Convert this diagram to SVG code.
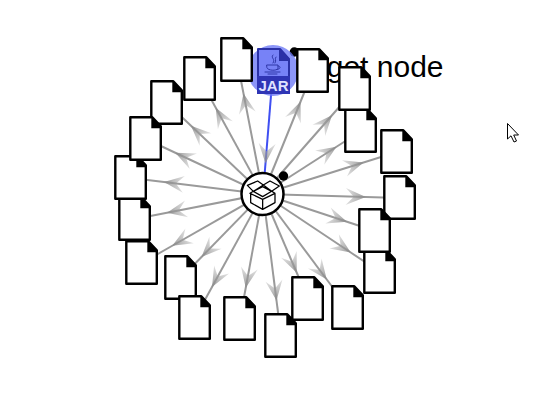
<svg xmlns="http://www.w3.org/2000/svg" width="537" height="416" viewBox="0 0 537 416">
<style>
.e{fill:none;stroke:#9a9a9a;stroke-width:2;marker-mid:url(#vee)}
.b{stroke:#3f4ff2}
.body{fill:#fff;stroke:#000;stroke-width:2.400;stroke-linejoin:round}
.fold{fill:#000}
.dot{fill:#000}
.ic{fill:none;stroke:#000;stroke-width:3.800;stroke-linejoin:round;stroke-linecap:round}
.cup{fill:none;stroke:#2f36a8;stroke-width:1;stroke-linecap:round}
</style>
<defs>
<linearGradient id="vg" gradientUnits="userSpaceOnUse" x1="-20" y1="0" x2="0" y2="0">
<stop offset="0" stop-color="#a8a8a8" stop-opacity=".35"/>
<stop offset="1" stop-color="#8a8a8a" stop-opacity=".9"/>
</linearGradient>
<marker id="vee" markerUnits="userSpaceOnUse" markerWidth="22" markerHeight="20" viewBox="-21 -10 22 20" refX="0" refY="0" orient="auto">
<path d="M0 0L-20 -8.500L-12 0L-20 8.500Z" fill="url(#vg)"/>
</marker>
<g id="file">
<path class="body" d="M.3 .3H22.300L30.800 9.300V42.800H.3Z"/>
<path class="fold" d="M21.300 .3H22.800L31.800 10.300V11.300H21.300Z"/>
</g>
</defs>
<text id="label" x="443.500" y="77" font-family="'Liberation Sans',Arial,sans-serif" font-size="30" text-anchor="end" fill="#000">get node</text>
<g id="connectors">
<path class="e" d="M263 194L243.500 93.500L237 60"/>
<path class="e" d="M263 194L215.750 107.750L200 79"/>
<path class="e" d="M263 194L191 125.750L167 103"/>
<path class="e" d="M263 194L175.250 152.750L146 139"/>
<path class="e" d="M263 194L164 182L131 178"/>
<path class="e" d="M263 194L167 212.750L135 219"/>
<path class="e" d="M263 194L172.250 245.750L142 263"/>
<path class="e" d="M263 194L201.500 257L181 278"/>
<path class="e" d="M263 194L212 287L195 318"/>
<path class="e" d="M263 194L245.750 287.750L240 319"/>
<path class="e" d="M263 194L276.500 300.500L281 336"/>
<path class="e" d="M263 194L296.750 272.750L308 299"/>
<path class="e" d="M263 194L326.750 279.500L348 308"/>
<path class="e" d="M263 194L350.750 252.500L380 272"/>
<path class="e" d="M263 194L347 221.750L375 231"/>
<path class="e" d="M263 194L365.750 197L400 198"/>
<path class="e" d="M263 194L363.500 162.500L397 152"/>
<path class="e" d="M263 194L336.500 146.750L361 131"/>
<path class="e" d="M263 194L332 115.250L355 89"/>
<path class="e" d="M263 194L300.500 101.750L313 71"/>
<path class="e b" d="M273 71L265.500 163.250L263 194"/>
</g>
<circle id="dot-source" class="dot" cx="283.500" cy="176" r="4.700"/>
<circle id="dot-target" class="dot" cx="294.300" cy="52" r="4.700"/>
<g id="jar-node">
<circle cx="273" cy="70.500" r="25.500" fill="#6f7cf6" fill-opacity=".8"/>
<path d="M258 49H280L289 59V93H258Z" fill="#7782f7" stroke="#2a31a6" stroke-width="2" stroke-linejoin="round"/>
<path d="M279 49H280.500L290 59.500V61H279Z" fill="#2a31a6"/>
<rect x="257" y="76" width="33" height="18" fill="#2f35b5"/>
<path class="cup" d="M273 55C270 58 276 59 273 63M276 57C274 59 277 60 275 63M267 65H278V68C278 71 268 71 267 68ZM278 66C281 66 281 69 277 69.500M265 72H280M268 74H277"/>
<text x="273.500" y="91" font-family="'Liberation Sans',Arial,sans-serif" font-size="15" font-weight="700" text-anchor="middle" fill="#dfe2ff">JAR</text>
</g>
<use id="file-h" href="#file" x="165" y="256"/>
<use id="file-i" href="#file" x="179" y="296"/>
<use id="file-j" href="#file" x="224" y="297"/>
<use id="file-l" href="#file" x="292" y="277"/>
<use id="file-k" href="#file" x="265" y="314"/>
<use id="file-n" href="#file" x="364" y="250"/>
<use id="file-m" href="#file" x="332" y="286"/>
<use id="file-p" href="#file" x="384" y="176"/>
<use id="file-o" href="#file" x="359" y="209"/>
<use id="file-q" href="#file" x="381" y="130"/>
<use id="file-r" href="#file" x="345" y="109"/>
<use id="file-s" href="#file" x="339" y="67"/>
<use id="file-t" href="#file" x="297" y="49"/>
<use id="file-a" href="#file" x="221" y="38"/>
<use id="file-b" href="#file" x="184" y="57"/>
<use id="file-g" href="#file" x="126" y="241"/>
<use id="file-f" href="#file" x="119" y="197"/>
<use id="file-e" href="#file" x="115" y="156"/>
<use id="file-c" href="#file" x="151" y="81"/>
<use id="file-d" href="#file" x="130" y="117"/>
<g id="center-node">
<circle cx="262.500" cy="194" r="21" fill="#fff" stroke="#000" stroke-width="2.500"/>
<g transform="translate(220 150) scale(.3333)">
<path class="ic" d="M82 106L113 93L130 105L100 124ZM130 105L150 93L178 108L155 124ZM100 124L128 110L155 124L128 140ZM100 124L90 130L128 148L165 130L155 124M92 133V158L128 178L165 158V133M128 148V178"/>
</g>
</g>
<path id="cursor" d="M507.500 123.500V139L511 135.800L514 142L516.500 141L513.700 135H518.500Z" fill="#fff" stroke="#000" stroke-width="1"/>
</svg>
